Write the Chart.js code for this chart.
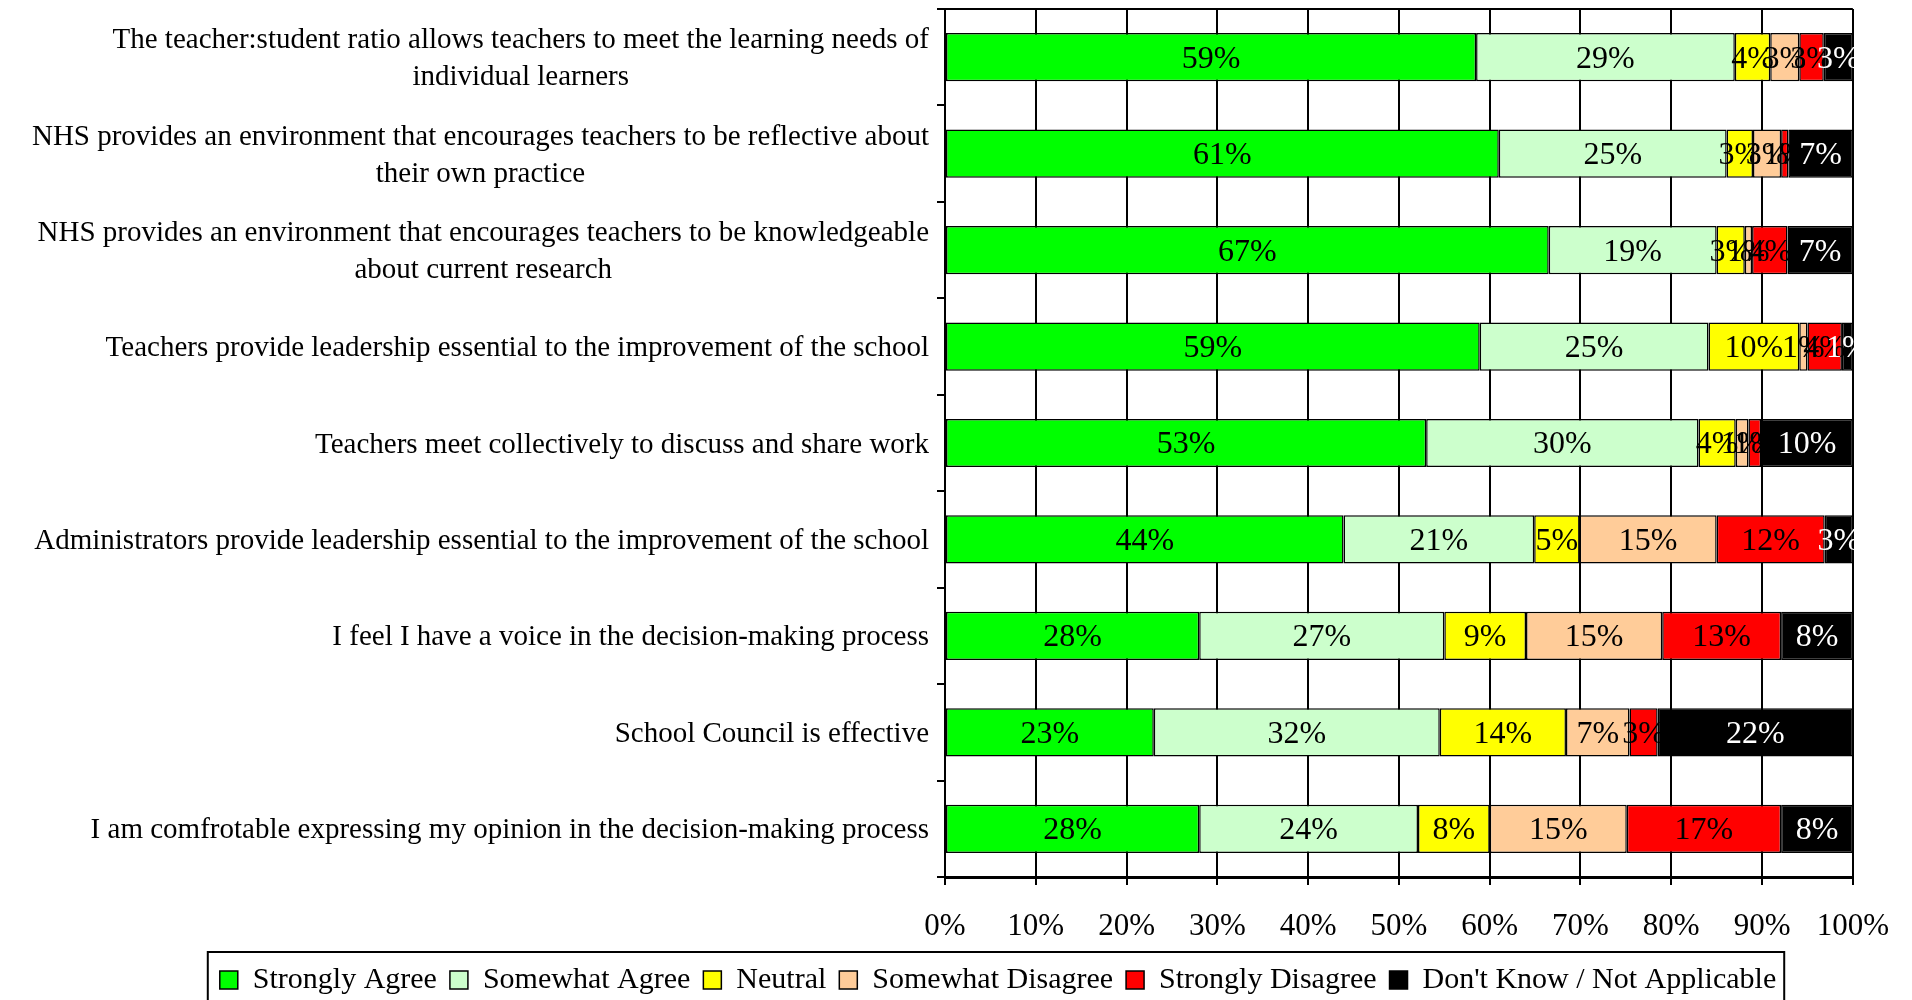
<!DOCTYPE html>
<html>
<head>
<meta charset="utf-8">
<title>Survey responses</title>
<script src="https://cdn.jsdelivr.net/npm/chart.js@4/dist/chart.umd.min.js"></script>
<style>
  html, body { margin: 0; padding: 0; background: #fff; }
  #wrap { width: 1912px; height: 1000px; position: relative; }
</style>
</head>
<body>
<div id="wrap"><canvas id="myChart"></canvas></div>
<script>
// one entry per survey statement, long ones split over two lines
const categories = [
  ['The teacher:student ratio allows teachers to meet the learning needs of', 'individual learners'],
  ['NHS provides an environment that encourages teachers to be reflective about', 'their own practice'],
  ['NHS provides an environment that encourages teachers to be knowledgeable', 'about current research'],
  'Teachers provide leadership essential to the improvement of the school',
  'Teachers meet collectively to discuss and share work',
  'Administrators provide leadership essential to the improvement of the school',
  'I feel I have a voice in the decision-making process',
  'School Council is effective',
  'I am comfrotable expressing my opinion in the decision-making process'
];

const seriesNames = ['Strongly Agree', 'Somewhat Agree', 'Neutral', 'Somewhat Disagree', 'Strongly Disagree', "Don't Know / Not Applicable"];

// percent of answers
const stronglyAgree    = [58.5, 61.0, 66.5, 58.9, 53.0, 43.9, 28.0, 23.0, 28.0];
const somewhatAgree    = [28.5, 25.1, 18.5, 25.2, 30.0, 21.0, 27.0, 31.5, 24.1];
const neutral          = [3.9, 2.9, 3.1, 10.0, 4.1, 5.0, 9.0, 13.9, 7.9];
const somewhatDisagree = [3.2, 3.1, 0.8, 0.9, 1.4, 15.1, 15.0, 7.0, 15.1];
const stronglyDisagree = [2.7, 0.8, 3.9, 3.8, 1.4, 11.9, 13.1, 3.1, 17.0];
const dontKnow         = [3.2, 7.1, 7.2, 1.2, 10.1, 3.1, 7.9, 21.5, 7.9];

const xTickValues = [0, 10, 20, 30, 40, 50, 60, 70, 80, 90, 100];

const colors = ['#00ff00', '#ccffcc', '#ffff00', '#ffcc99', '#ff0000', '#000000'];
const SERIF = "'Liberation Serif', 'Times New Roman', serif";

Chart.defaults.font.family = SERIF;
Chart.defaults.color = '#000';

const allSeries = [stronglyAgree, somewhatAgree, neutral, somewhatDisagree, stronglyDisagree, dontKnow];

const extras = {
  id: 'extras',
  afterDatasetsDraw(chart) {
    const ctx = chart.ctx;
    // percentage in the middle of every segment
    ctx.save();
    ctx.font = `32px ${SERIF}`;
    ctx.textAlign = 'center';
    ctx.textBaseline = 'middle';
    chart.data.datasets.forEach((ds, i) => {
      chart.getDatasetMeta(i).data.forEach((bar, j) => {
        ctx.fillStyle = i === 5 ? '#fff' : '#000';
        ctx.fillText(Math.round(ds.data[j]) + '%', (bar.x + bar.base) / 2, bar.y + 2);
      });
    });
    ctx.restore();
  },
  afterDraw(chart) {
    const ctx = chart.ctx;
    const area = chart.chartArea;
    const yScale = chart.scales.y;
    ctx.save();

    // line along the top of the plot
    ctx.strokeStyle = '#000';
    ctx.lineWidth = 2;
    ctx.beginPath();
    ctx.moveTo(area.left, area.top);
    ctx.lineTo(area.right, area.top);
    ctx.stroke();

    // category labels: block is right aligned, its lines are centred
    ctx.font = `29px ${SERIF}`;
    ctx.fillStyle = '#000';
    ctx.textAlign = 'center';
    ctx.textBaseline = 'middle';
    chart.data.labels.forEach((lab, i) => {
      const lines = Array.isArray(lab) ? lab : [lab];
      const w = Math.max(...lines.map(l => ctx.measureText(l).width));
      const cx = area.left - 16 - w / 2;
      const cy = yScale.getPixelForValue(i) + 2;
      lines.forEach((l, k) => ctx.fillText(l, cx, cy + (k - (lines.length - 1) / 2) * 37));
    });

    // frame round the legend
    const boxes = chart.legend.legendHitBoxes;
    if (boxes && boxes.length) {
      const first = boxes[0];
      const last = boxes[boxes.length - 1];
      const left = first.left - 12;
      const right = last.left + last.width + 8;
      const top = first.top - 13;
      ctx.lineWidth = 2;
      ctx.strokeRect(left, top, right - left, 100);
    }
    ctx.restore();
  }
};

window.chart = new Chart(document.querySelector('#myChart'), {
  type: 'bar',
  data: {
    labels: categories,
    datasets: allSeries.map((values, i) => ({
      label: seriesNames[i],
      data: values,
      backgroundColor: colors[i],
      borderColor: '#000',
      borderWidth: 1.5,
      borderSkipped: false,
      categoryPercentage: 0.5,
      barPercentage: 1.0
    }))
  },
  options: {
    indexAxis: 'y',
    responsive: true,
    maintainAspectRatio: false,
    animation: false,
    layout: { padding: { top: 9, right: 59, left: 143, bottom: -5 } },
    scales: {
      x: {
        stacked: true,
        min: 0,
        max: 100,
        afterBuildTicks: s => { s.ticks = xTickValues.map(v => ({ value: v })); },
        ticks: {
          callback: v => v + '%',
          font: { size: 31 },
          color: '#000',
          padding: 23,
          autoSkip: false,
          maxRotation: 0
        },
        grid: { color: '#000', lineWidth: 2, tickLength: 8 },
        border: { color: '#000', width: 3 },
        afterFit: s => { s.height = 75; }
      },
      y: {
        stacked: true,
        ticks: { display: false },
        grid: { drawOnChartArea: false, color: '#000', lineWidth: 2, tickLength: 8, offset: true },
        border: { color: '#000', width: 2 },
        afterFit: s => { s.width = 945 - 143; }
      }
    },
    plugins: {
      legend: {
        position: 'bottom',
        labels: { font: { size: 30 }, color: '#000', boxWidth: 18, boxHeight: 18, padding: 13 }
      },
      tooltip: { enabled: false }
    }
  },
  plugins: [extras]
});
</script>
</body>
</html>
